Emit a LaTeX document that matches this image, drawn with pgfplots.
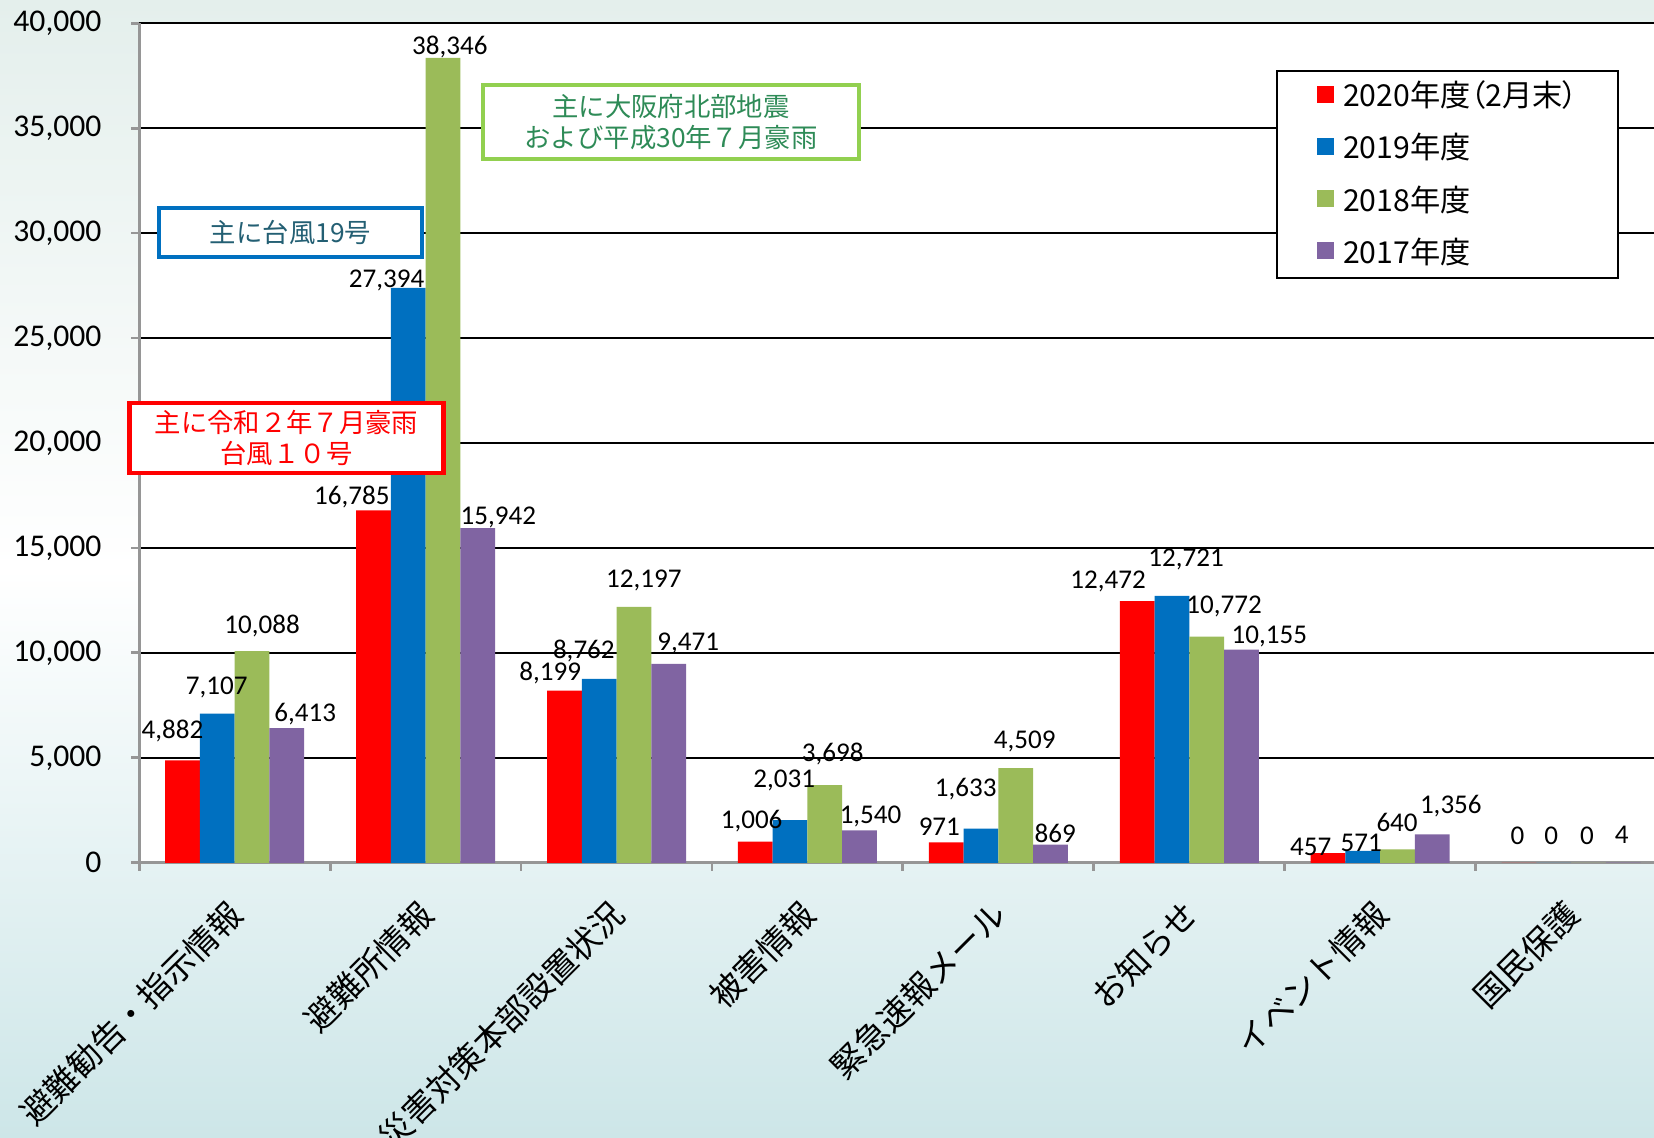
\documentclass[border=0pt]{standalone}
\usepackage{pgfplots}
\pgfplotsset{compat=1.18}
\usepackage{pgfplotstable}
\usepackage{fontspec}
\setmainfont{Carlito}
\newfontfamily\jp{Noto Sans CJK JP}
\newfontfamily\jpp{Noto Sans CJK JP}[RawFeature=+palt]

\definecolor{cRed}{RGB}{255,0,0}
\definecolor{cBlue}{RGB}{0,112,192}
\definecolor{cGreen}{RGB}{155,187,89}
\definecolor{cPurple}{RGB}{128,100,162}
\definecolor{boxGreen}{RGB}{146,208,80}
\definecolor{txtGreen}{RGB}{46,139,87}
\definecolor{txtBlue}{RGB}{35,95,115}
\definecolor{bgTop}{RGB}{228,239,236}
\definecolor{bgBot}{RGB}{205,230,232}

\pgfplotstableread{
x y dx dy
0 4882 -1.00 2.95
1 16785 -2.16 1.37
2 8199 -1.42 1.79
3 1006 -0.37 2.10
4 971 -0.69 1.55
5 12472 -2.90 2.00
6 457 -1.74 0.63
7 0 -0.16 2.74
}\tblA
\pgfplotstableread{
x y dx dy
0 7107 -0.05 2.64
1 27394 -2.16 0.74
2 8762 -1.53 2.74
3 2031 -0.58 3.97
4 1633 -1.53 3.96
5 12721 1.42 3.59
6 571 -0.16 0.80
7 0 -0.26 2.74
}\tblB
\pgfplotstableread{
x y dx dy
0 10088 1.00 2.53
1 38346 0.69 1.05
2 12197 1.00 2.64
3 3698 0.79 3.10
4 4509 0.90 2.67
5 10772 1.74 3.06
6 640 -0.05 2.67
7 0 -0.16 2.74
}\tblC
\pgfplotstableread{
x y dx dy
0 6413 1.85 1.37
1 15942 2.06 1.05
2 9471 1.95 2.06
3 1540 1.10 1.41
4 869 0.47 1.13
5 10155 2.80 1.27
6 1356 1.85 2.85
7 4 -0.16 2.74
}\tblD

\begin{document}
\begin{tikzpicture}
\useasboundingbox (0,0) rectangle (165.4mm,113.8mm);
\clip (0,0) rectangle (165.4mm,113.8mm);
\shade[top color=bgTop, bottom color=bgBot, middle color=white] (0,0) rectangle (165.4mm,113.8mm);
\begin{axis}[
  at={(13.92mm,27.52mm)}, anchor=south west,
  scale only axis, width=151.48mm, height=83.96mm,
  axis background/.style={fill=white},
  ybar, bar width=0.182,
  xmin=-0.5, xmax=7.434,
  ymin=0, ymax=40000,
  ytick={0,5000,...,40000},
  scaled y ticks=false,
  /pgf/number format/1000 sep={,},
  /pgf/number format/assume math mode=true,
  ymajorgrids,
  major grid style={black, line width=0.6pt},
  axis x line*=bottom, axis y line*=left,
  axis line style={draw={rgb,255:red,150;green,150;blue,150}, line width=0.9pt, -},
  tick align=outside,
  tick style={draw={rgb,255:red,150;green,150;blue,150}, line width=0.8pt},
  major tick length=0.8mm,
  xtick={-0.5,0.5,...,6.5},
  xticklabels={},
  extra x ticks={0,1,2,3,4,5,6,7},
  extra x tick labels={避難勧告・指示情報,避難所情報,災害対策本部設置状況,被害情報,緊急速報メール,お知らせ,イベント情報,国民保護},
  extra x tick style={major tick length=0pt, tick style={draw=none}},
  xticklabel style={font=\jp\fontsize{9.4}{11}\selectfont, inner sep=0pt, xshift=-0.9mm, yshift=-3.4mm, rotate=45, anchor=north east},
  yticklabel style={font=\fontsize{9}{10}\selectfont, inner sep=0pt, anchor=east, xshift=-2.9mm},
  clip=false,
  point meta=y,
  nodes near coords={\pgfmathprintnumber[fixed,precision=0,1000 sep={,},assume math mode=true]{\pgfplotspointmeta}},
  visualization depends on={\thisrow{dx} \as \labdx},
  visualization depends on={\thisrow{dy} \as \labdy},
  every node near coord/.append style={font=\fontsize{7.7}{9}\selectfont, black, anchor=center, inner sep=0pt, xshift=\labdx mm, yshift=\labdy mm},
  legend image code/.code={\fill[#1,draw=none] (0,-0.6mm) rectangle (1.7mm,1.1mm); \path (2.6mm,0);},
  legend style={at={(0.7505,0.9443)}, anchor=north west, draw=black, line width=0.6pt, fill=white,
    font=\jpp\fontsize{8.6}{10}\selectfont, inner xsep=4mm, inner ysep=1.0mm, row sep=2.13mm,
    nodes={inner sep=0pt}},
  legend cell align=left,
]
\addplot[fill=cRed, draw=none, bar shift=-0.273] table[x=x,y=y] {\tblA};
\addplot[fill=cBlue, draw=none, bar shift=-0.091] table[x=x,y=y] {\tblB};
\addplot[fill=cGreen, draw=none, bar shift=0.091] table[x=x,y=y] {\tblC};
\addplot[fill=cPurple, draw=none, bar shift=0.273] table[x=x,y=y] {\tblD};
\legend{2020年度（2月末）,2019年度,2018年度,2017年度}
\end{axis}
\node[draw=boxGreen, line width=1.1pt, fill=white, minimum width=37.6mm, minimum height=7.4mm, inner sep=0pt, align=center, text=txtGreen, font=\jp\fontsize{7.5}{9}\selectfont] at (67.1mm,101.6mm) {主に大阪府北部地震\\および平成30年７月豪雨};
\node[draw=cBlue, line width=1.1pt, fill=white, minimum width=26.3mm, minimum height=4.9mm, inner sep=0pt, align=center, text=txtBlue, font=\jp\fontsize{7.5}{9}\selectfont] at (29.05mm,90.55mm) {主に台風19号};
\node[draw=cRed, line width=1.3pt, fill=white, minimum width=31.4mm, minimum height=7.0mm, inner sep=0pt, align=center, text=cRed, font=\jp\fontsize{7.5}{9}\selectfont] at (28.65mm,70.0mm) {主に令和２年７月豪雨\\台風１０号};
\end{tikzpicture}
\end{document}
